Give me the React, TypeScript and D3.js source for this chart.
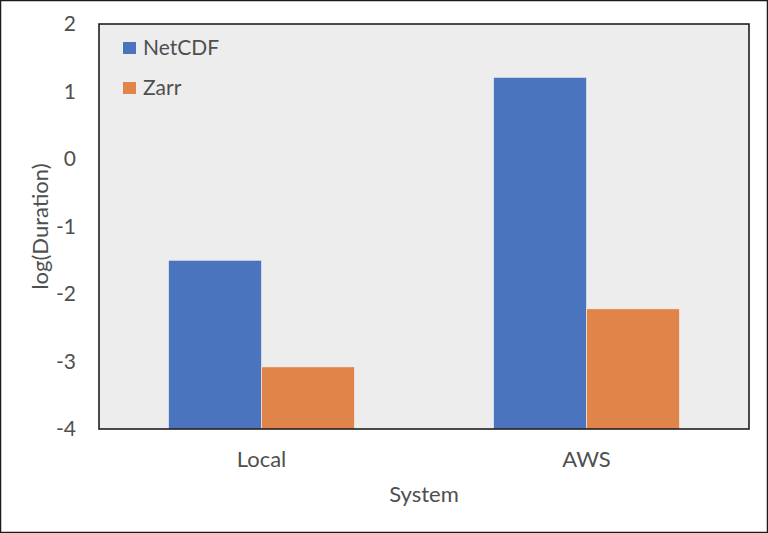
import { useEffect, useRef } from "react"
import * as d3 from "d3"

const systems = ["Local", "AWS"]
const seriesNames = ["NetCDF", "Zarr"]
const netcdfValues = [-1.5, 1.21]
const zarrValues = [-3.08, -2.22]
const yTicks = [-4, -3, -2, -1, 0, 1, 2]

const colors = ["#4a74bd", "#e1844a"]
const textColor = "#4f4f4f"
const font = "Lato, 'Open Sans', sans-serif"

const App = () => {
  const svgRef = useRef<SVGSVGElement>(null)

  useEffect(() => {
    document.body.style.margin = "0"
    const svg = d3.select(svgRef.current)
    svg.selectAll("*").remove()

    const W = 768
    const H = 533
    const plot = { left: 99, right: 749, top: 24, bottom: 429 }

    svg.attr("width", W).attr("height", H).style("display", "block")

    // outer frame
    svg.append("rect")
      .attr("x", 0.5).attr("y", 0.5)
      .attr("width", W - 1).attr("height", H - 1)
      .attr("fill", "#fff").attr("stroke", "#1a1a1a").attr("stroke-width", 1.5)

    const x0 = d3.scaleBand()
      .domain(systems)
      .range([plot.left, plot.right])
      .paddingInner(0.428)
      .paddingOuter(0.214)

    const x1 = d3.scaleBand()
      .domain(seriesNames)
      .range([0, x0.bandwidth()])

    const y = d3.scaleLinear().domain([-4, 2]).range([plot.bottom, plot.top])

    // plot background
    svg.append("rect")
      .attr("x", plot.left).attr("y", plot.top)
      .attr("width", plot.right - plot.left).attr("height", plot.bottom - plot.top)
      .attr("fill", "#ededed")

    const rows = systems.map((s, i) => ({
      system: s,
      values: [netcdfValues[i], zarrValues[i]],
    }))

    // bars (drawn from the bottom of the axis)
    const groups = svg.selectAll(".grp")
      .data(rows)
      .enter()
      .append("g")
      .attr("transform", (d) => `translate(${x0(d.system)},0)`)

    groups.selectAll("rect")
      .data((d) => d.values.map((v, j) => ({ name: seriesNames[j], v, j })))
      .enter()
      .append("rect")
      .attr("x", (d) => x1(d.name)!)
      .attr("width", x1.bandwidth())
      .attr("y", (d) => y(d.v))
      .attr("height", (d) => y(-4) - y(d.v))
      .attr("fill", (d) => colors[d.j])
      .attr("stroke", "#f4f4f4")
      .attr("stroke-width", 0.6)

    // plot border
    svg.append("rect")
      .attr("x", plot.left).attr("y", plot.top)
      .attr("width", plot.right - plot.left).attr("height", plot.bottom - plot.top)
      .attr("fill", "none").attr("stroke", "#111").attr("stroke-width", 1.5)

    // y tick labels
    svg.append("g")
      .attr("transform", `translate(${plot.left},0)`)
      .call(d3.axisLeft(y).tickValues(yTicks).tickSize(0).tickPadding(23).tickFormat((d) => String(d)))
      .call((g) => g.select(".domain").remove())
      .selectAll("text")
      .style("font-family", font)
      .style("font-size", "21px")
      .style("fill", textColor)

    // x tick labels
    svg.append("g")
      .attr("transform", `translate(0,${plot.bottom})`)
      .call(d3.axisBottom(x0).tickSize(0).tickPadding(22))
      .call((g) => g.select(".domain").remove())
      .selectAll("text")
      .style("font-family", font)
      .style("font-size", "22px")
      .style("fill", textColor)

    // axis titles
    svg.append("text")
      .attr("x", (plot.left + plot.right) / 2)
      .attr("y", 502)
      .attr("text-anchor", "middle")
      .style("font-family", font)
      .style("font-size", "22px")
      .style("fill", textColor)
      .text("System")

    svg.append("text")
      .attr("transform", `translate(48,${(plot.top + plot.bottom) / 2}) rotate(-90)`)
      .attr("text-anchor", "middle")
      .style("font-family", font)
      .style("font-size", "22px")
      .style("fill", textColor)
      .text("log(Duration)")

    // legend
    const legend = svg.append("g").attr("transform", "translate(123,42)")
    seriesNames.forEach((name, i) => {
      const row = legend.append("g").attr("transform", `translate(0,${i * 40})`)
      row.append("rect")
        .attr("width", 13).attr("height", 12)
        .attr("fill", colors[i])
      row.append("text")
        .attr("x", 20).attr("y", 12.5)
        .style("font-family", font)
        .style("font-size", "21px")
        .style("fill", textColor)
        .text(name)
    })
  }, [])

  return <svg ref={svgRef}></svg>
}

export default App
